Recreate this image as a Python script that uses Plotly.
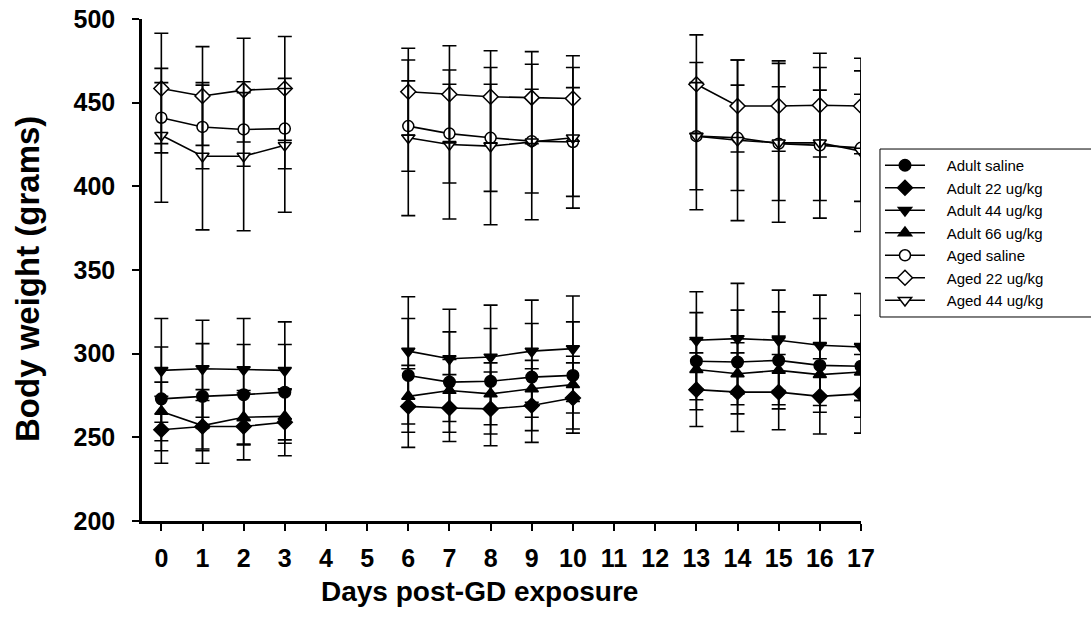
import plotly.graph_objects as go

days = list(range(18))
N = None

adult_saline = [273, 274.5, 275.5, 277, N, N, 287, 283, 283.5, 286, 287, N, N, 295.5, 295, 296, 293, 292.5]
adult_saline_sd = [31, 31.5, 30, 28.5, N, N, 34, 30, 31.5, 32, 32, N, N, 29, 31, 29, 28, 30.5]

adult_22 = [254.5, 256.5, 256.5, 259, N, N, 268.5, 267.5, 267, 269, 273.5, N, N, 278.5, 277, 277, 274.5, 276]
adult_22_sd = [20, 22, 20, 20, N, N, 24.5, 20, 22, 22, 21, N, N, 22, 23.5, 22.5, 22.5, 23.5]

adult_44 = [290, 291, 290.5, 290, N, N, 301.5, 297, 298, 301.5, 303, N, N, 308, 309, 308, 305, 304]
adult_44_sd = [31, 29, 30.5, 29, N, N, 32.5, 29.5, 31, 30.5, 31.5, N, N, 29, 33, 30, 30, 32]

adult_66 = [265.5, 257, 262, 262.5, N, N, 274.5, 278, 276, 279, 281.5, N, N, 290.5, 288, 290, 287.5, 289]
adult_66_sd = [17.5, 15, 16, 16, N, N, 16.5, 18.5, 18.5, 17, 17, N, N, 18, 18.5, 20.5, 18.5, 17]

aged_saline = [441, 435.5, 434, 434.5, N, N, 436, 431.5, 429, 427, 426.5, N, N, 430, 429, 425.5, 424.5, 423]
aged_saline_sd = [21, 25, 22, 24, N, N, 27, 29.5, 32, 31, 32.5, N, N, 32, 31.5, 34, 33, 32]

aged_22 = [458.5, 454, 457.5, 458.5, N, N, 456.5, 455, 453.5, 453, 452.5, N, N, 461, 448, 448, 448.5, 448]
aged_22_sd = [33, 29.5, 31, 31, N, N, 26, 29, 27.5, 27.5, 25.5, N, N, 29.5, 27.5, 27, 31, 28.5]

aged_44 = [430.5, 418, 418, 424.5, N, N, 429, 425, 424, 426.5, 429, N, N, 430, 427.5, 426, 426, 421]
aged_44_sd = [40, 44, 44.5, 40, N, N, 46.5, 44.5, 47, 46.5, 42, N, N, 44, 48, 47.5, 45, 48]

series = [
    ("Adult saline", adult_saline, adult_saline_sd, "circle", "black", 11.5),
    ("Adult 22 ug/kg", adult_22, adult_22_sd, "diamond", "black", 11.5),
    ("Adult 44 ug/kg", adult_44, adult_44_sd, "triangle-down", "black", 11.5),
    ("Adult 66 ug/kg", adult_66, adult_66_sd, "triangle-up", "black", 11.5),
    ("Aged saline", aged_saline, aged_saline_sd, "circle", "white", 11),
    ("Aged 22 ug/kg", aged_22, aged_22_sd, "diamond", "white", 11.5),
    ("Aged 44 ug/kg", aged_44, aged_44_sd, "triangle-down", "white", 11.5),
]

NB = "\u00a0"
fig = go.Figure()
for name, y, sd, sym, fill, size in series:
    fig.add_trace(go.Scatter(
        x=days, y=y, name=NB * 4 + name, mode="lines+markers", connectgaps=False,
        line=dict(color="black", width=1.6),
        marker=dict(symbol=sym, size=size, color=fill, line=dict(color="black", width=1.5)),
    ))
# error bars drawn on top of markers
for name, y, sd, sym, fill, size in series:
    fig.add_trace(go.Scatter(
        x=days, y=y, mode="markers", showlegend=False, hoverinfo="skip",
        marker=dict(size=1, color="rgba(0,0,0,0)"),
        error_y=dict(type="data", array=sd, visible=True, color="black", thickness=1.6, width=7),
    ))

font_family = "Liberation Sans, Arial, sans-serif"
LEG_TOP = 0.741
LEG_BOTTOM = 0.4064
LEG_LEFT = 1.0264

fig.update_layout(
    width=1091, height=629,
    paper_bgcolor="white", plot_bgcolor="white",
    margin=dict(l=142, r=230, t=19, b=108, autoexpand=False),
    font=dict(family=font_family, color="black"),
    showlegend=True,
    hovermode=False,
    legend=dict(
        x=LEG_LEFT, y=LEG_TOP, xanchor="left", yanchor="top",
        borderwidth=0, bgcolor="rgba(0,0,0,0)",
        font=dict(size=15, family=font_family, color="black"),
        itemwidth=40, tracegroupgap=0,
    ),
    shapes=[
        dict(type="rect", xref="paper", yref="paper",
             x0=LEG_LEFT, x1=1.45, y0=LEG_BOTTOM, y1=LEG_TOP,
             line=dict(color="black", width=1), fillcolor="white", layer="below"),
    ],
    xaxis=dict(
        range=[-0.47, 17], tickvals=days, ticktext=[str(d) for d in days],
        showline=True, linecolor="black", linewidth=2.5, mirror=False,
        ticks="outside", ticklen=7, tickwidth=1.5, tickcolor="black",
        showgrid=False, zeroline=False, ticklabelstandoff=6,
        ticklabeloverflow="allow",
        tickfont=dict(size=25, weight="bold", family=font_family),
    ),
    yaxis=dict(
        range=[200, 500], dtick=50, tick0=200,
        showline=True, linecolor="black", linewidth=2.5,
        ticks="outside", ticklen=7, tickwidth=1.5, tickcolor="black",
        showgrid=False, zeroline=False, ticklabelstandoff=12,
        ticklabeloverflow="allow",
        tickfont=dict(size=25, weight="bold", family=font_family),
    ),
    annotations=[
        dict(text="Days post-GD exposure", xref="paper", yref="paper",
             x=0.470, y=-0.1414, xanchor="center", yanchor="middle", showarrow=False,
             font=dict(size=28, weight="bold", family=font_family)),
        dict(text="Body weight (grams)", xref="paper", yref="paper",
             x=-0.16, y=0.482, xanchor="center", yanchor="middle", showarrow=False,
             textangle=-90, font=dict(size=33, weight="bold", family=font_family)),
    ],
)

fig.write_html(
    "out.html",
    config={"displayModeBar": False},
    post_script="document.body.style.margin='0px';document.body.style.overflow='hidden';",
)
